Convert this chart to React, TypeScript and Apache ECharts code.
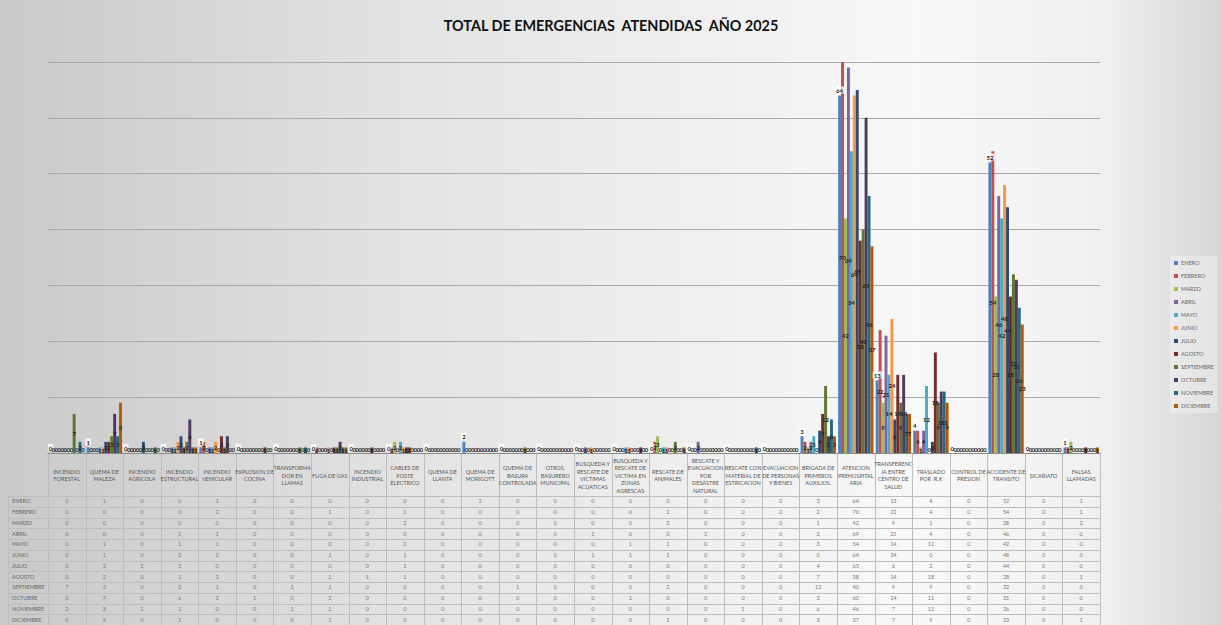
import React, { useEffect, useRef } from 'react';
import * as echarts from 'echarts';

const months = ['ENERO', 'FEBRERO', 'MARZO', 'ABRIL', 'MAYO', 'JUNIO', 'JULIO', 'AGOSTO', 'SEPTIEMBRE', 'OCTUBRE', 'NOVIEMBRE', 'DICIEMBRE'];

const categories = [
  'INCENDIO\nFORESTAL', 'QUEMA DE\nMALEZA', 'INCENDIO\nAGRICOLA', 'INCENDIO\nESTRUCTURAL', 'INCENDIO\nVEHICULAR',
  'EXPLOSION DE\nCOCINA', 'TRANSFORMA\nDOR EN\nLLAMAS', 'FUGA DE GAS', 'INCENDIO\nINDUSTRIAL', 'CABLES DE\nPOSTE\nELECTRICO',
  'QUEMA DE\nLLANTA', 'QUEMA DE\nMORIGOTT', 'QUEMA DE\nBASURA\nCONTROLADA', 'OTROS,\nBASURERO\nMUNICIPAL',
  'BUSQUEDA Y\nRESCATE DE\nVICTIMAS\nACUATICAS', 'BUSQUEDA Y\nRESCATE DE\nVICTIMA EN\nZONAS\nAGRESCAS', 'RESCATE DE\nANIMALES',
  'RESCATE Y\nEVACUACION\nPOR\nDESASTRE\nNATURAL', 'RESCATE CON\nMATERIAL DE\nESTRICACION', 'EVACUACION\nDE PERSONAS\nY BIENES',
  'BRIGADA DE\nPRIMEROS\nAUXILIOS.', 'ATENCION\nPREHOSPITAL\nARIA', 'TRANSFERENC\nIA ENTRE\nCENTRO DE\nSALUD', 'TRASLADO\nPOR  R.X',
  'CONTROL DE\nPRESION', 'ACCIDENTE DE\nTRANSITO', 'SICARIATO', 'FALSAS\nLLAMADAS'
];

const ENERO = [0, 1, 0, 0, 1, 0, 0, 0, 0, 0, 0, 2, 0, 0, 0, 0, 0, 0, 0, 0, 3, 64, 13, 4, 0, 52, 0, 1];
const FEBRERO = [0, 0, 0, 0, 2, 0, 0, 1, 0, 1, 0, 0, 0, 0, 0, 0, 2, 0, 0, 0, 2, 70, 22, 4, 0, 54, 0, 1];
const MARZO = [0, 0, 0, 0, 0, 0, 0, 0, 0, 2, 0, 0, 0, 0, 0, 0, 3, 0, 0, 0, 1, 42, 9, 1, 0, 28, 0, 2];
const ABRIL = [0, 0, 0, 1, 1, 0, 0, 0, 0, 0, 0, 0, 0, 0, 1, 0, 0, 2, 0, 0, 2, 69, 21, 4, 0, 46, 0, 0];
const MAYO = [0, 1, 0, 1, 1, 0, 0, 0, 0, 2, 0, 0, 0, 0, 0, 1, 1, 0, 0, 0, 3, 54, 14, 12, 0, 42, 0, 0];
const JUNIO = [0, 1, 0, 2, 2, 0, 0, 1, 0, 1, 0, 0, 0, 0, 1, 1, 1, 0, 0, 0, 0, 64, 24, 0, 0, 48, 0, 0];
const JULIO = [0, 2, 2, 3, 0, 0, 0, 0, 0, 1, 0, 0, 0, 0, 0, 0, 0, 0, 0, 0, 4, 65, 6, 2, 0, 44, 0, 0];
const AGOSTO = [0, 2, 0, 1, 3, 0, 0, 1, 1, 1, 0, 0, 0, 0, 0, 0, 0, 0, 0, 0, 7, 38, 14, 18, 0, 28, 0, 1];
const SEPTIEMBRE = [7, 3, 0, 2, 1, 0, 1, 1, 0, 0, 0, 0, 1, 0, 0, 0, 2, 0, 0, 0, 12, 40, 9, 9, 0, 32, 0, 0];
const OCTUBRE = [0, 7, 0, 6, 3, 1, 0, 2, 0, 0, 0, 0, 0, 0, 0, 1, 0, 0, 0, 0, 3, 60, 14, 11, 0, 31, 0, 0];
const NOVIEMBRE = [2, 3, 1, 1, 0, 0, 1, 1, 0, 0, 0, 0, 0, 0, 0, 0, 0, 0, 1, 0, 6, 46, 7, 11, 0, 26, 0, 0];
const DICIEMBRE = [0, 9, 0, 1, 0, 0, 0, 1, 0, 0, 0, 0, 0, 0, 0, 0, 1, 0, 0, 0, 3, 37, 7, 9, 0, 23, 0, 1];

const seriesValues = [ENERO, FEBRERO, MARZO, ABRIL, MAYO, JUNIO, JULIO, AGOSTO, SEPTIEMBRE, OCTUBRE, NOVIEMBRE, DICIEMBRE];

const colors = ['#4F81BD', '#C0504D', '#9BBB59', '#8064A2', '#4BACC6', '#F79646', '#2C4D75', '#772C2A', '#5F7530', '#4D3B62', '#276A7C', '#B65708'];

const Y_MAX = 70;
const Y_INTERVAL = 10;

export default function App() {
  const ref = useRef<HTMLDivElement>(null);
  useEffect(() => {
    if (!ref.current) return;
    const chart = echarts.init(ref.current, null, { renderer: 'svg' });
    const FONT = 'Lato, "Open Sans", sans-serif';
    const labelBase = { fontSize: 6, fontWeight: 'bold', color: '#222', fontFamily: FONT };
    const option: any = {
      animation: false,
      backgroundColor: {
        type: 'linear', x: 0, y: 0, x2: 1, y2: 0,
        colorStops: [
          { offset: 0, color: '#c9c9c9' },
          { offset: 0.35, color: '#e4e4e4' },
          { offset: 0.75, color: '#f8f8f8' },
          { offset: 0.9, color: '#f0f0f0' },
          { offset: 1, color: '#d6d6d6' }
        ]
      },
      title: {
        text: 'TOTAL DE EMERGENCIAS  ATENDIDAS  AÑO 2025',
        left: 'center',
        top: 13,
        textStyle: { fontFamily: FONT, fontWeight: 'bold', fontSize: 14.4, color: '#111' }
      },
      legend: {
        orient: 'vertical',
        left: 1170,
        top: 256,
        icon: 'rect',
        itemWidth: 4,
        itemHeight: 4,
        itemGap: 7,
        padding: [4, 4, 4, 4],
        backgroundColor: 'rgba(255,255,255,0.3)',
        textStyle: { fontFamily: FONT, fontSize: 5.5, color: '#666', padding: [0, 0, 0, -2] },
        data: months
      },
      grid: { left: 48, right: 122, top: 62, bottom: 172, containLabel: false },
      xAxis: {
        type: 'category',
        data: categories,
        axisLine: { show: true, lineStyle: { color: '#8a8a8a', width: 1 } },
        axisTick: { show: false },
        axisLabel: { show: false }
      },
      yAxis: {
        type: 'value',
        min: 0,
        max: Y_MAX,
        interval: Y_INTERVAL,
        axisLabel: { show: false },
        axisLine: { show: false },
        axisTick: { show: false },
        splitLine: { show: true, lineStyle: { color: '#a9a9a9', width: 1 } }
      },
      series: seriesValues.map((vals, i) => ({
        name: months[i],
        type: 'bar',
        data: vals.map((v) =>
          i > 0 && v === 0
            ? { value: v, label: { position: 'top', distance: 1 } }
            : v
        ),
        barGap: '0%',
        barCategoryGap: '6%',
        itemStyle: { color: colors[i] },
        label: i === 0
          ? { show: true, position: 'top', distance: 2, ...labelBase, backgroundColor: 'rgba(255,255,255,0.85)', padding: [1, 1, 0, 1] }
          : { show: true, position: 'inside', ...labelBase }
      }))
    };
    chart.setOption(option);

    const c0 = chart.convertToPixel({ xAxisIndex: 0 }, 0) as number;
    const c1 = chart.convertToPixel({ xAxisIndex: 0 }, 1) as number;
    const w = c1 - c0;
    const axisY = chart.convertToPixel({ yAxisIndex: 0 }, 0) as number;
    const headerBottom = 496;
    const rowH = 10.75;
    const tableLeft = 8;
    const tableRight = c0 + (categories.length - 0.5) * w;
    const tableBottom = 640;
    const lineColor = '#bdbdbd';
    const graphic: any[] = [];

    for (let i = 0; i <= categories.length; i++) {
      const x = Math.round(c0 + (i - 0.5) * w) + 0.5;
      graphic.push({ type: 'line', silent: true, shape: { x1: x, y1: axisY, x2: x, y2: tableBottom }, style: { stroke: lineColor, lineWidth: 1 } });
    }
    graphic.push({ type: 'line', silent: true, shape: { x1: tableLeft + 0.5, y1: headerBottom, x2: tableLeft + 0.5, y2: tableBottom }, style: { stroke: lineColor, lineWidth: 1 } });
    for (let r = 0; r <= months.length; r++) {
      const y = Math.round(headerBottom + r * rowH) + 0.5;
      graphic.push({ type: 'line', silent: true, shape: { x1: tableLeft, y1: y, x2: tableRight, y2: y }, style: { stroke: lineColor, lineWidth: 1 } });
    }
    categories.forEach((cat, i) => {
      graphic.push({
        type: 'text', silent: true,
        style: {
          text: cat, x: c0 + i * w, y: (axisY + headerBottom) / 2 + 1,
          align: 'center', verticalAlign: 'middle', fontSize: 5.5, lineHeight: 7.5,
          fill: '#555', fontFamily: FONT
        }
      });
    });
    months.forEach((m, r) => {
      const y = headerBottom + (r + 0.5) * rowH;
      graphic.push({
        type: 'text', silent: true,
        style: { text: m, x: tableLeft + 4, y, align: 'left', verticalAlign: 'middle', fontSize: 5.5, fill: '#666', fontFamily: FONT }
      });
      seriesValues[r].forEach((v, i) => {
        graphic.push({
          type: 'text', silent: true,
          style: { text: String(v), x: c0 + i * w, y, align: 'center', verticalAlign: 'middle', fontSize: 5.5, fill: '#777', fontFamily: FONT }
        });
      });
    });
    chart.setOption({ graphic });

    return () => chart.dispose();
  }, []);
  return <div ref={ref} style={{ position: 'fixed', left: 0, top: 0, width: 1222, height: 625 }} />;
}
